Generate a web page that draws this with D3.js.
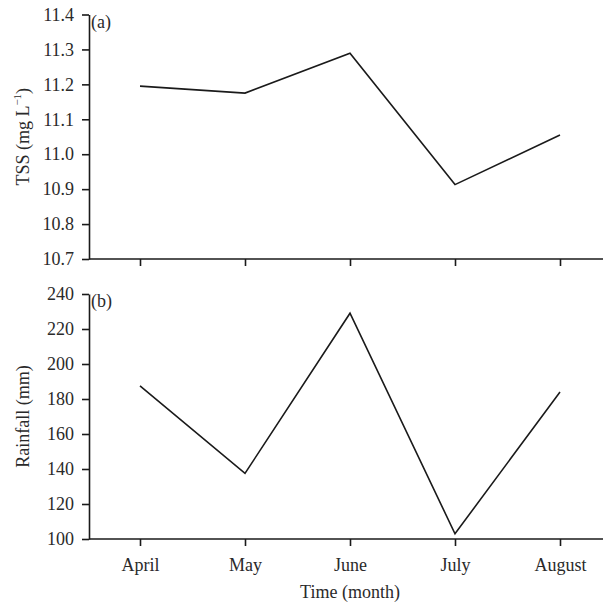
<!DOCTYPE html>
<html>
<head>
<meta charset="utf-8">
<script src="https://cdn.jsdelivr.net/npm/d3@7"></script>
<style>
  html, body { margin: 0; padding: 0; background: #fff; }
  svg { display: block; }
  .axis text { font-family: "Liberation Serif", "Times New Roman", serif; font-size: 18px; fill: #2a2a2a; }
  .axis path, .axis line { stroke: #1a1a1a; stroke-width: 1.6; }
  .label { font-family: "Liberation Serif", "Times New Roman", serif; font-size: 18px; fill: #2a2a2a; }
  .series { fill: none; stroke: #1a1a1a; stroke-width: 1.6; stroke-linejoin: miter; }
</style>
</head>
<body>
<svg id="chart" width="604" height="605"></svg>
<script>
'use strict';

var months = ['April', 'May', 'June', 'July', 'August'];
var tss = [11.195, 11.175, 11.289, 10.913, 11.055];
var rainfall = [187.5, 137.5, 229, 103, 184];
var tssTicks = [10.7, 10.8, 10.9, 11.0, 11.1, 11.2, 11.3, 11.4];
var rainTicks = [100, 120, 140, 160, 180, 200, 220, 240];

var axisLeftX = 89;
var axisRightX = 603;

var svg = d3.select('#chart');

var xScale = d3.scalePoint()
    .domain(months)
    .range([140, 560]);

function drawPanel(opts) {
  var yScale = d3.scaleLinear()
      .domain([opts.ticks[0], opts.ticks[opts.ticks.length - 1]])
      .range([opts.bottom, opts.top]);

  var panel = svg.append('g').attr('class', 'panel');

  // x axis
  var xAxis = d3.axisBottom(xScale)
      .tickSize(7)
      .tickSizeOuter(0)
      .tickPadding(12)
      .tickFormat(opts.showMonths ? null : function () { return ''; });

  var gx = panel.append('g')
      .attr('class', 'x axis')
      .attr('transform', 'translate(0,' + opts.bottom + ')')
      .call(xAxis);
  gx.select('.domain').remove();
  gx.append('line')
      .attr('x1', axisLeftX)
      .attr('x2', axisRightX)
      .attr('y1', 0)
      .attr('y2', 0);

  // y axis
  var yAxis = d3.axisLeft(yScale)
      .tickValues(opts.ticks)
      .tickSize(7)
      .tickSizeOuter(0)
      .tickPadding(8)
      .tickFormat(d3.format(opts.format));

  panel.append('g')
      .attr('class', 'y axis')
      .attr('transform', 'translate(' + axisLeftX + ',0)')
      .call(yAxis);

  // line
  var line = d3.line()
      .x(function (d, i) { return xScale(months[i]); })
      .y(function (d) { return yScale(d); });

  panel.append('path')
      .datum(opts.values)
      .attr('class', 'series')
      .attr('d', line);

  // panel letter
  panel.append('text')
      .attr('class', 'label')
      .attr('x', axisLeftX + 2)
      .attr('y', opts.top + 13)
      .text(opts.letter);

  // y label
  var yl = panel.append('text')
      .attr('class', 'label')
      .attr('text-anchor', 'middle')
      .attr('transform', 'translate(29,' + ((opts.top + opts.bottom) / 2) + ') rotate(-90)');
  opts.ylabel(yl);
}

drawPanel({
  top: 14.5,
  bottom: 259,
  ticks: tssTicks,
  values: tss,
  format: '.1f',
  letter: '(a)',
  showMonths: false,
  ylabel: function (t) {
    t.append('tspan').text('TSS (mg L');
    t.append('tspan')
        .attr('font-size', '11px')
        .attr('dy', '-8')
        .text('\u22121');
    t.append('tspan')
        .attr('dy', '8')
        .text(')');
  }
});

drawPanel({
  top: 294,
  bottom: 539,
  ticks: rainTicks,
  values: rainfall,
  format: 'd',
  letter: '(b)',
  showMonths: true,
  ylabel: function (t) {
    t.text('Rainfall (mm)');
  }
});

svg.append('text')
    .attr('class', 'label')
    .attr('text-anchor', 'middle')
    .attr('x', xScale('June'))
    .attr('y', 598)
    .text('Time (month)');
</script>
</body>
</html>
